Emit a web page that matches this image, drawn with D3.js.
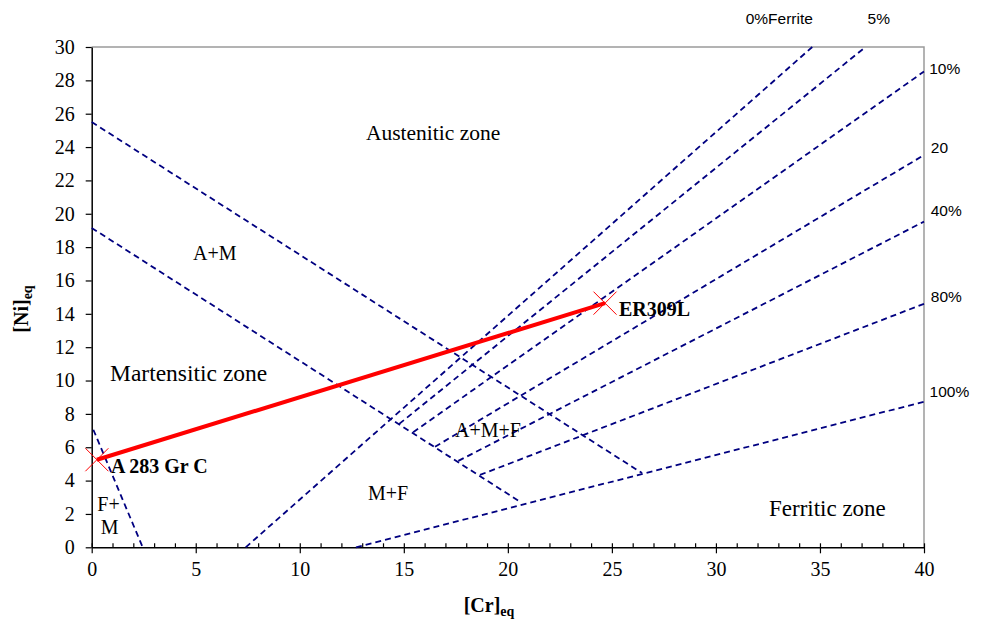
<!DOCTYPE html>
<html>
<head>
<meta charset="utf-8">
<script src="https://cdn.jsdelivr.net/npm/d3@7"></script>
<style>
  body { margin: 0; background: #fff; }
  text { fill: #000; }
</style>
</head>
<body>
<svg id="chart" width="982" height="626"></svg>
<script>
// phase boundaries, [Cr]eq , [Ni]eq
var amUpper = [[0, 25.5], [26.45, 4.45]];
var amLower = [[0, 19.15], [20.5, 2.8]];
var fmLine = [[0.08, 7.05], [2.45, 0]];

// iso-ferrite lines
var ferrite0 = [[7.4, 0], [34.63, 30]];
var ferrite5 = [[14.78, 7.4], [37.19, 30]];
var ferrite10 = [[15.45, 6.9], [40, 28.53]];
var ferrite20 = [[16.5, 6.03], [40, 23.52]];
var ferrite40 = [[17.62, 5.18], [40, 19.53]];
var ferrite80 = [[18.66, 4.34], [40, 14.6]];
var ferrite100 = [[12.7, 0], [40, 8.73]];

// base metal and filler
var alloyNames = ["A 283 Gr C", "ER309L"];
var alloyCr = [0.25, 24.67];
var alloyNi = [5.25, 14.64];

var xTicks = [0, 5, 10, 15, 20, 25, 30, 35, 40];
var yTicks = [0, 2, 4, 6, 8, 10, 12, 14, 16, 18, 20, 22, 24, 26, 28, 30];

// text labels at [Cr]eq, [Ni]eq of their baseline start
var zoneNames = ["Austenitic zone", "A+M", "Martensitic zone", "A+M+F", "M+F", "Ferritic zone", "F+", "M"];
var zoneCr = [13.18, 4.87, 0.88, 17.46, 13.28, 32.55, 0.27, 0.43];
var zoneNi = [24.43, 17.23, 9.98, 6.63, 2.84, 1.88, 2.2, 0.8];

var ferriteNames = ["0%Ferrite", "5%", "10%", "20", "40%", "80%", "100%"];
var ferriteCr = [31.43, 37.29, 40.25, 40.33, 40.32, 40.33, 40.27];
var ferriteNi = [31.39, 31.39, 28.39, 23.67, 19.87, 14.73, 9.03];

// font size of the zone texts (px)
var zoneSize = {"Austenitic zone": 21.5, "Martensitic zone": 23.5, "Ferritic zone": 23};

var svg = d3.select("#chart");
var pLeft = 91.7, pRight = 924, pTop = 47, pBottom = 547.3;

var x = d3.scaleLinear().domain([0, 40]).range([pLeft, pRight]);
var y = d3.scaleLinear().domain([0, 30]).range([pBottom, pTop]);

var serif = "'Liberation Serif', 'Times New Roman', serif";
var sans = "'Liberation Sans', Arial, sans-serif";

// grey frame top and right
svg.append("path")
  .attr("d", "M" + x(0) + "," + y(30) + "H" + x(40) + "V" + y(0))
  .attr("fill", "none")
  .attr("stroke", "#9a9a9a")
  .attr("stroke-width", 1.5);

// x axis, major ticks cross the line, minor ticks go up
var xMinor = d3.range(0, 41).filter(function(d){ return d % 5 != 0 });
svg.append("g")
  .attr("transform", "translate(0," + y(0) + ")")
  .call(d3.axisBottom(x).tickValues(xMinor).tickSizeInner(-4).tickSizeOuter(0).tickFormat(""))
  .call(function(g){ g.select(".domain").remove() })
  .selectAll("line").attr("stroke-width", 1.2);

var gx = svg.append("g")
  .attr("transform", "translate(0," + y(0) + ")")
  .call(d3.axisBottom(x).tickValues(xTicks).tickSizeInner(6).tickSizeOuter(0).tickPadding(9));
gx.selectAll(".tick line").attr("y1", -4).attr("stroke-width", 1.2);
gx.select(".domain").attr("stroke-width", 1.5);
gx.selectAll("text").style("font-family", serif).style("font-size", "20px").attr("fill", "#000");

var gy = svg.append("g")
  .attr("transform", "translate(" + x(0) + ",0)")
  .call(d3.axisLeft(y).tickValues(yTicks).tickSizeInner(6).tickSizeOuter(0).tickPadding(11));
gy.selectAll(".tick line").attr("stroke-width", 1.2);
gy.select(".domain").attr("stroke-width", 1.5);
gy.selectAll("text").style("font-family", serif).style("font-size", "20px").attr("fill", "#000");

// dashed lines
var line = d3.line().x(function(d){ return x(d[0]) }).y(function(d){ return y(d[1]) });
var dashed = [amUpper, amLower, fmLine, ferrite0, ferrite5, ferrite10, ferrite20, ferrite40, ferrite80, ferrite100];

svg.selectAll(".boundary")
  .data(dashed)
  .enter()
  .append("path")
    .classed("boundary", true)
    .attr("d", line)
    .attr("fill", "none")
    .attr("stroke", "#000080")
    .attr("stroke-width", 1.8)
    .attr("stroke-dasharray", "6,4");

// dilution line between the two alloys
var alloys = alloyNames.map(function(d, i){ return [alloyCr[i], alloyNi[i]] });
svg.append("path")
  .attr("d", line(alloys))
  .attr("fill", "none")
  .attr("stroke", "#ff0000")
  .attr("stroke-width", 4);

svg.selectAll(".mark")
  .data(alloys)
  .enter()
  .append("path")
    .classed("mark", true)
    .attr("transform", function(d){ return "translate(" + x(d[0]) + "," + y(d[1]) + ")" })
    .attr("d", "M-11.5,-11.5L11.5,11.5M-11.5,11.5L11.5,-11.5")
    .attr("stroke", "#ff0000")
    .attr("stroke-width", 1);

svg.selectAll(".alloy")
  .data(alloyNames)
  .enter()
  .append("text")
    .classed("alloy", true)
    .attr("x", function(d, i){ return x(alloyCr[i]) + 14 })
    .attr("y", function(d, i){ return y(alloyNi[i]) + 13 })
    .style("font-family", serif)
    .style("font-size", "20px")
    .style("font-weight", "bold")
    .text(function(d){ return d });

// zone labels
svg.selectAll(".zone")
  .data(zoneNames)
  .enter()
  .append("text")
    .classed("zone", true)
    .attr("x", function(d, i){ return x(zoneCr[i]) })
    .attr("y", function(d, i){ return y(zoneNi[i]) })
    .style("font-family", serif)
    .style("font-size", function(d){ return (zoneSize[d] || 20) + "px" })
    .text(function(d){ return d });

// ferrite % labels
svg.selectAll(".fn")
  .data(ferriteNames)
  .enter()
  .append("text")
    .classed("fn", true)
    .attr("x", function(d, i){ return x(ferriteCr[i]) })
    .attr("y", function(d, i){ return y(ferriteNi[i]) })
    .style("font-family", sans)
    .style("font-size", "15.5px")
    .text(function(d){ return d });

// axis titles
var tx = svg.append("text")
  .attr("x", 489)
  .attr("y", 612)
  .attr("text-anchor", "middle")
  .style("font-family", serif)
  .style("font-size", "20px")
  .style("font-weight", "bold");
tx.append("tspan").text("[Cr]");
tx.append("tspan").attr("dy", 4).style("font-size", "14px").text("eq");

var ty = svg.append("text")
  .attr("transform", "translate(28,309) rotate(-90)")
  .attr("text-anchor", "middle")
  .style("font-family", serif)
  .style("font-size", "20px")
  .style("font-weight", "bold");
ty.append("tspan").text("[Ni]");
ty.append("tspan").attr("dy", 4).style("font-size", "14px").text("eq");
</script>
</body>
</html>
